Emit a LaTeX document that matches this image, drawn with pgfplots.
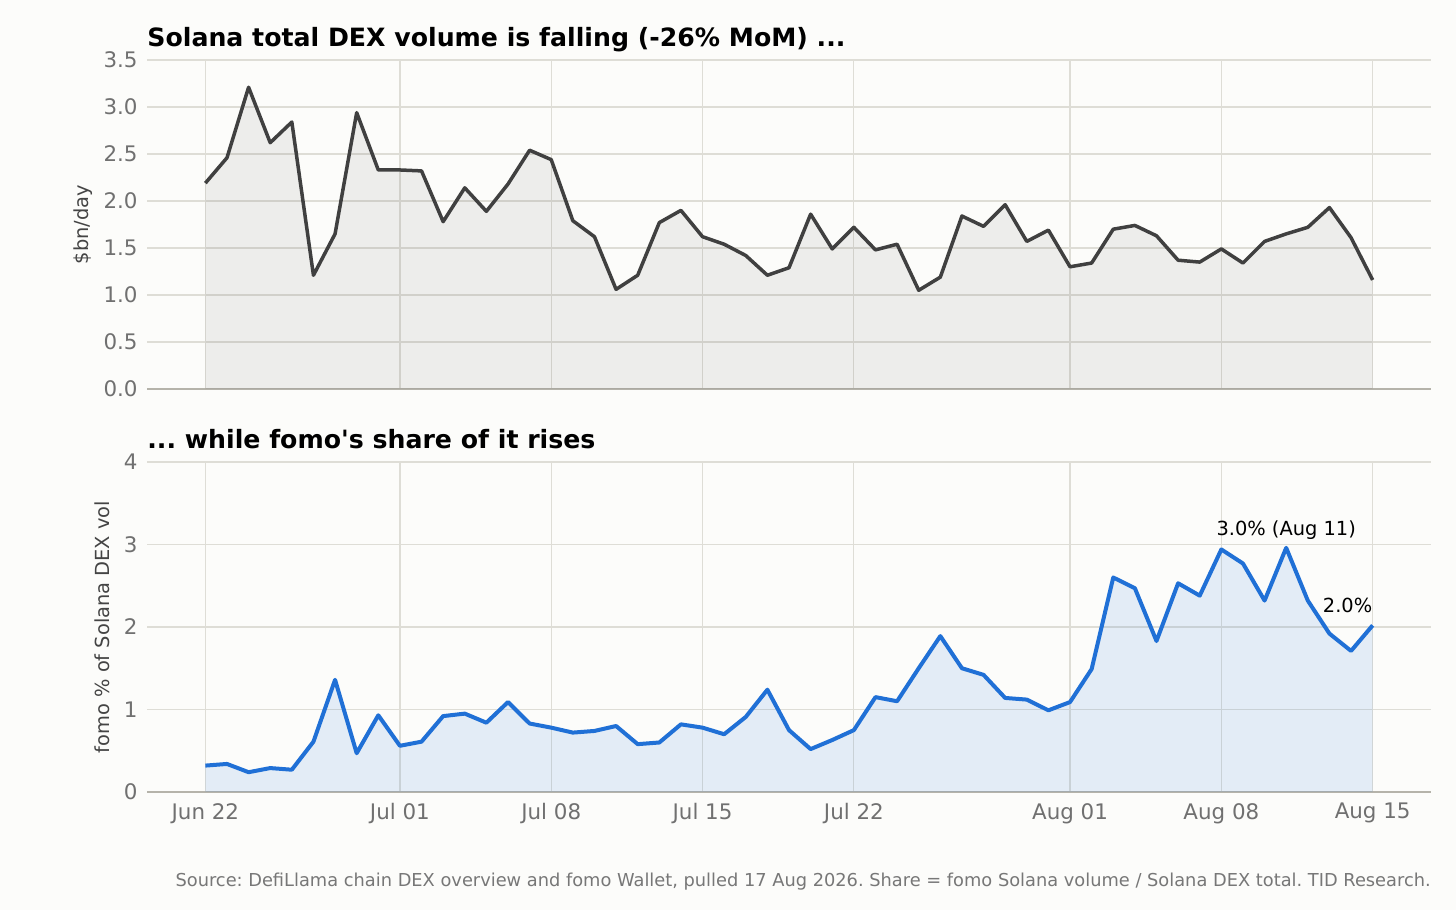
\documentclass[border=0pt]{standalone}
\usepackage{fontspec}
\setmainfont{DejaVu Sans}[Ligatures=TeXOff]
\usepackage{pgfplots}
\usepackage{pgfplotstable}
\pgfplotsset{compat=1.18}
\frenchspacing

\definecolor{bg}{HTML}{FCFCFA}
\definecolor{gridc}{HTML}{DEDDD6}
\definecolor{spine}{HTML}{B5B3AA}
\definecolor{tickc}{HTML}{707070}
\definecolor{darkline}{HTML}{404040}
\definecolor{blueline}{HTML}{2070D6}
\definecolor{srcc}{HTML}{777777}
\definecolor{labc}{HTML}{444444}

\pgfplotstableread{
d v
0 2.19
1 2.46
2 3.21
3 2.62
4 2.84
5 1.21
6 1.65
7 2.94
8 2.33
9 2.33
10 2.32
11 1.78
12 2.14
13 1.89
14 2.18
15 2.54
16 2.44
17 1.79
18 1.62
19 1.06
20 1.21
21 1.77
22 1.90
23 1.62
24 1.54
25 1.42
26 1.21
27 1.29
28 1.86
29 1.49
30 1.72
31 1.48
32 1.54
33 1.05
34 1.19
35 1.84
36 1.73
37 1.96
38 1.57
39 1.69
40 1.30
41 1.34
42 1.70
43 1.74
44 1.63
45 1.37
46 1.35
47 1.49
48 1.34
49 1.57
50 1.65
51 1.72
52 1.93
53 1.61
54 1.16
}\dexvol

\pgfplotstableread{
d v
0 0.32
1 0.34
2 0.24
3 0.29
4 0.27
5 0.61
6 1.36
7 0.47
8 0.93
9 0.56
10 0.61
11 0.92
12 0.95
13 0.84
14 1.09
15 0.83
16 0.78
17 0.72
18 0.74
19 0.80
20 0.58
21 0.60
22 0.82
23 0.78
24 0.70
25 0.91
26 1.24
27 0.75
28 0.52
29 0.63
30 0.75
31 1.15
32 1.10
33 1.50
34 1.89
35 1.50
36 1.42
37 1.14
38 1.12
39 0.99
40 1.09
41 1.49
42 2.60
43 2.47
44 1.83
45 2.53
46 2.38
47 2.94
48 2.77
49 2.32
50 2.96
51 2.32
52 1.92
53 1.71
54 2.02
}\fomoshare

\pgfplotsset{
  /pgf/number format/assume math mode=true,
  mystyle/.style={
    scale only axis,
    width=642bp,
    height=165bp,
    xmin=-2.7, xmax=56.7,
    axis x line*=bottom,
    axis y line*=left,
    axis line style={-},
    x axis line style={draw=spine, line width=0.75bp},
    y axis line style={draw=none},
    major tick length=0pt,
    grid=major,
    major grid style={draw=gridc, line width=0.6bp},
    xtick={0,9,16,23,30,40,47,54},
    tick label style={font=\fontsize{10.7bp}{12bp}\selectfont, text=tickc, inner sep=0pt},
    yticklabel shift=4.5bp,
    xticklabel shift=5.5bp,
    title style={at={(axis description cs:0,1)}, anchor=base west, yshift=1bp,
      font=\fontsize{12.6bp}{15bp}\selectfont\bfseries, text=black, inner sep=0pt},
    ylabel style={font=\fontsize{9.7bp}{11bp}\selectfont, text=labc, anchor=center, inner sep=0pt},
    clip=false,
  }
}

\begin{document}
\begin{tikzpicture}
\path[use as bounding box, fill=bg] (0,0) rectangle (728bp,455bp);

\begin{axis}[mystyle,
  at={(73.5bp,260.5bp)}, anchor=south west,
  height=164.5bp,
  ymin=0, ymax=3.5,
  ytick={0,0.5,1,1.5,2,2.5,3,3.5},
  yticklabel style={/pgf/number format/.cd, fixed, fixed zerofill, precision=1},
  xticklabels={},
  title={Solana total DEX volume is falling (-26\% MoM) ...},
  ylabel={\$bn/day},
  ylabel style={at={(axis description cs:-0.0495,0.5)}},
]
\addplot[draw=none, fill=darkline, fill opacity=0.08] table[x=d, y=v] {\dexvol} \closedcycle;
\addplot[draw=darkline, line width=1.75bp, line join=round] table[x=d, y=v] {\dexvol};
\end{axis}

\begin{axis}[mystyle,
  at={(73.5bp,59bp)}, anchor=south west,
  ymin=0, ymax=4,
  ytick={0,1,2,3,4},
  xticklabels={Jun 22, Jul 01, Jul 08, Jul 15, Jul 22, Aug 01, Aug 08, Aug 15},
  title={... while fomo's share of it rises},
  ylabel={fomo \% of Solana DEX vol},
  ylabel style={at={(axis description cs:-0.035,0.5)}},
]
\addplot[draw=none, fill=blueline, fill opacity=0.11] table[x=d, y=v] {\fomoshare} \closedcycle;
\addplot[draw=blueline, line width=2bp, line join=round] table[x=d, y=v] {\fomoshare};
\node[anchor=base, font=\fontsize{9.7bp}{11bp}\selectfont, text=black, inner sep=0pt] at (axis cs:50,3.107) {3.0\% (Aug 11)};
\node[anchor=base east, font=\fontsize{9.7bp}{11bp}\selectfont, text=black, inner sep=0pt] at (axis cs:54,2.173) {2.0\%};
\end{axis}

\node[anchor=base east, font=\fontsize{8.9bp}{10bp}\selectfont, text=srcc, inner sep=0pt] at (715.5bp,12bp) {Source: DefiLlama chain DEX overview and fomo Wallet, pulled 17 Aug 2026. Share = fomo Solana volume / Solana DEX total. TID Research.};
\end{tikzpicture}
\end{document}
